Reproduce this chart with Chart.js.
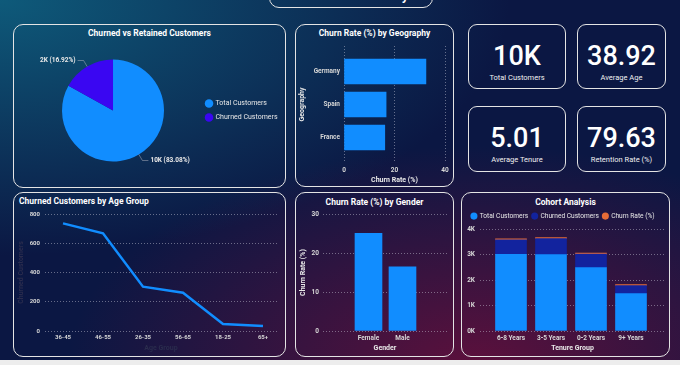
<!DOCTYPE html>
<html><head><meta charset="utf-8">
<script src="https://cdn.jsdelivr.net/npm/chart.js@4.4.1/dist/chart.umd.min.js"></script>
<style>
html,body{margin:0;padding:0;}
body{width:680px;height:365px;overflow:hidden;position:relative;font-family:Roboto,sans-serif;
background:
 radial-gradient(ellipse 75% 70% at 0% 0%, rgba(14,90,122,1), rgba(14,90,122,0)),
 radial-gradient(ellipse 60% 60% at 70% 100%, rgba(92,16,60,1), rgba(92,16,60,0)),
 #0b1743;}
.box{position:absolute;border:1.6px solid #e4e4e4;border-radius:10px;box-sizing:border-box;}
.kpi{position:absolute;border:1.6px solid #e4e4e4;border-radius:9px;box-sizing:border-box;color:#fff;text-align:center;}
.kpi .v{position:absolute;left:0;right:0;top:17px;font-size:27px;line-height:28px;font-weight:500;}
.kpi .l{position:absolute;left:0;right:0;top:48px;font-size:7.5px;line-height:10px;color:#f0f0f0;}
.t{position:absolute;color:#fff;font-weight:bold;font-size:8.5px;line-height:10px;white-space:nowrap;}
canvas{position:absolute;}
#strip{position:absolute;left:0;top:360px;width:680px;height:5px;background:#ededed;}
</style></head>
<body>
<div class="box" style="left:269px;top:-22px;width:164px;height:30px;"></div>
<div class="t" style="left:269px;width:164px;top:-11.5px;text-align:center;font-size:13px;line-height:13px;">Customer Churn Analysis</div>

<div class="box" style="left:13px;top:24px;width:273px;height:164px;"></div>
<div class="t" style="left:13px;width:273px;top:28px;text-align:center;">Churned vs Retained Customers</div>
<canvas id="pie" width="273" height="164" style="left:13px;top:24px;"></canvas>

<div class="box" style="left:295px;top:24px;width:159px;height:163px;"></div>
<div class="t" style="left:295px;width:159px;top:28px;text-align:center;">Churn Rate (%) by Geography</div>
<canvas id="geo" width="159" height="163" style="left:295px;top:24px;"></canvas>

<div id="kpis"></div>

<div class="box" style="left:13px;top:192px;width:273px;height:165px;"></div>
<div class="t" style="left:19px;top:196px;">Churned Customers by Age Group</div>
<canvas id="age" width="273" height="165" style="left:13px;top:192px;"></canvas>

<div class="box" style="left:295px;top:192px;width:159px;height:165px;"></div>
<div class="t" style="left:295px;width:159px;top:197px;text-align:center;">Churn Rate (%) by Gender</div>
<canvas id="gender" width="159" height="165" style="left:295px;top:192px;"></canvas>

<div class="box" style="left:461px;top:192px;width:209px;height:165px;"></div>
<div class="t" style="left:461px;width:209px;top:197px;text-align:center;">Cohort Analysis</div>
<canvas id="cohort" width="209" height="165" style="left:461px;top:192px;"></canvas>

<div id="strip"></div>

<script>
// ---------- data ----------
const pieLabels = ['Total Customers', 'Churned Customers'];
const pieValues = [10000, 2037];

const geoLabels = ['Germany', 'Spain', 'France'];
const geoRates = [32.44, 16.67, 16.15];

const kpiValues = ['10K', '38.92', '5.01', '79.63'];
const kpiLabels = ['Total Customers', 'Average Age', 'Average Tenure', 'Retention Rate (%)'];

const ageGroups = ['36-45', '46-55', '26-35', '56-65', '18-25', '65+'];
const ageChurned = [736, 668, 303, 262, 48, 34];

const genders = ['Female', 'Male'];
const genderRates = [25.07, 16.46];

const tenureGroups = ['6-8 Years', '3-5 Years', '0-2 Years', '9+ Years'];
const tenureTotal = [3020, 3010, 2496, 1474];
const tenureChurned = [570, 625, 528, 314];
const tenureRate = [18.87, 20.76, 21.15, 21.30];

const geoTicks = [0, 20, 40];
const ageTicks = [0, 200, 400, 600, 800];
const genderTicks = [0, 10, 20, 30];
const cohortTicks = [0, 1000, 2000, 3000, 4000];

// ---------- KPI cards ----------
const kpiBoxes = [[468,24,98,65],[577,24,89,65],[468,106,98,66],[577,106,89,66]];
const kpiWrap = document.getElementById('kpis');
kpiValues.forEach((v,i)=>{
  const b = kpiBoxes[i];
  const d = document.createElement('div');
  d.className='kpi';
  d.style.cssText = `left:${b[0]}px;top:${b[1]}px;width:${b[2]}px;height:${b[3]}px;`;
  d.innerHTML = `<div class="v">${v}</div><div class="l">${kpiLabels[i]}</div>`;
  kpiWrap.appendChild(d);
});

// ---------- common ----------
Chart.defaults.font.family = 'Roboto, sans-serif';
Chart.defaults.animation = false;
const TICK = '#d6d6d6';
const GRID = 'rgba(210,210,225,0.45)';
const FAINT = '#2a2c4d';
const tickFont = {size: 6.5, weight: 'bold'};
const titleFont = {size: 7, weight: 'bold'};
const fixW = w => s => { s.width = w; };
const fixH = h => s => { s.height = h; };
const idxTicks = arr => s => { s.ticks = arr.map((_, i) => ({value: i})); };
const valTicks = arr => s => { s.ticks = arr.map(v => ({value: v})); };
const fmtK = v => v >= 1000 ? Math.round(v/1000) + 'K' : String(v);

// ---------- pie ----------
const pieLabelPlugin = {
  id: 'pieLabels',
  afterDatasetsDraw(chart) {
    const ctx = chart.ctx;
    const meta = chart.getDatasetMeta(0);
    const total = pieValues.reduce((a,b)=>a+b,0);
    ctx.save();
    ctx.font = 'bold 6.5px Roboto, sans-serif';
    meta.data.forEach((arc, i) => {
      const mid = (arc.startAngle + arc.endAngle) / 2;
      const r = arc.outerRadius;
      const x0 = arc.x + Math.cos(mid)*r, y0 = arc.y + Math.sin(mid)*r;
      const x1 = arc.x + Math.cos(mid)*(r+7), y1 = arc.y + Math.sin(mid)*(r+7);
      const right = Math.cos(mid) >= 0;
      const x2 = x1 + (right ? 6 : -6);
      ctx.strokeStyle = 'rgba(190,190,200,0.6)';
      ctx.lineWidth = 0.8;
      ctx.beginPath(); ctx.moveTo(x0,y0); ctx.lineTo(x1,y1); ctx.lineTo(x2,y1); ctx.stroke();
      const v = pieValues[i];
      const txt = fmtK(v) + ' (' + (v/total*100).toFixed(2) + '%)';
      ctx.fillStyle = '#e8e8e8';
      ctx.textAlign = right ? 'left' : 'right';
      ctx.textBaseline = 'middle';
      ctx.fillText(txt, x2 + (right ? 2 : -2), y1);
    });
    ctx.restore();
  }
};
new Chart(document.getElementById('pie'), {
  type: 'pie',
  data: {labels: pieLabels, datasets: [{data: pieValues, backgroundColor: ['#118DFF', '#3A06F2'], borderWidth: 0}]},
  options: {
    responsive: false,
    layout: {padding: {top: 35.5, bottom: 26.5, left: 14, right: -1.5}},
    plugins: {
      legend: {position: 'right', align: 'center',
        labels: {usePointStyle: true, pointStyle: 'circle', boxWidth: 6, boxHeight: 6, padding: 7,
          color: '#e8e8e8', font: {size: 7}}},
      tooltip: {enabled: false}
    }
  },
  plugins: [pieLabelPlugin]
});

// ---------- geography ----------
new Chart(document.getElementById('geo'), {
  type: 'bar',
  data: {datasets: [{data: geoRates.map((v,i)=>({x: v, y: i})), backgroundColor: '#118DFF', barThickness: 25}]},
  options: {
    responsive: false, indexAxis: 'y',
    layout: {padding: {top: 22, right: 9, left: 0, bottom: 0}},
    plugins: {legend: {display: false}, tooltip: {enabled: false}},
    scales: {
      y: {type: 'linear', offset: false, reverse: true, min: -0.773, max: 2.773, afterBuildTicks: idxTicks(geoLabels), afterFit: fixW(49),
        grid: {display: false, offset: false, drawTicks: false}, border: {display: false},
        ticks: {callback: v => geoLabels[v], color: TICK, font: tickFont, padding: 4, autoSkip: false},
        title: {display: true, text: 'Geography', color: '#e8e8e8', font: titleFont, padding: {top: 3, bottom: 3}}},
      x: {type: 'linear', min: 0, max: 40, afterBuildTicks: valTicks(geoTicks), afterFit: fixH(24),
        grid: {color: GRID, drawTicks: false}, border: {display: false, dash: [1, 2]},
        ticks: {color: TICK, font: tickFont, padding: 3},
        title: {display: true, text: 'Churn Rate (%)', color: '#e8e8e8', font: titleFont, padding: {top: 1, bottom: 3}}}
    }
  }
});

// ---------- age line ----------
new Chart(document.getElementById('age'), {
  type: 'line',
  data: {datasets: [{data: ageChurned.map((v,i)=>({x: i, y: v})), borderColor: '#118DFF', borderWidth: 2.5,
    pointRadius: 0, tension: 0, fill: false}]},
  options: {
    responsive: false,
    layout: {padding: {top: 22, right: 9, left: 0, bottom: 0}},
    plugins: {legend: {display: false}, tooltip: {enabled: false}},
    scales: {
      x: {type: 'linear', offset: false, min: -0.45, max: 5.35, afterBuildTicks: idxTicks(ageGroups), afterFit: fixH(26),
        grid: {display: false, drawTicks: false}, border: {display: false},
        ticks: {callback: v => ageGroups[v], color: TICK, font: {size: 6, weight: 'bold'}, padding: 3, autoSkip: false, maxRotation: 0},
        title: {display: true, text: 'Age Group', color: FAINT, font: titleFont, padding: {top: 1, bottom: 5}}},
      y: {min: 0, max: 800, afterBuildTicks: valTicks(ageTicks), afterFit: fixW(32),
        grid: {color: GRID, drawTicks: false}, border: {display: false, dash: [1, 2]},
        ticks: {color: TICK, font: {size: 6, weight: 'bold'}, padding: 5},
        title: {display: true, text: 'Churned Customers', color: FAINT, font: titleFont, padding: {top: 4, bottom: 2}}}
    }
  }
});

// ---------- gender ----------
new Chart(document.getElementById('gender'), {
  type: 'bar',
  data: {datasets: [{data: genderRates.map((v,i)=>({x: i, y: v})), backgroundColor: '#118DFF', barThickness: 27}]},
  options: {
    responsive: false,
    layout: {padding: {top: 22, right: 7, left: 0, bottom: 0}},
    plugins: {legend: {display: false}, tooltip: {enabled: false}},
    scales: {
      x: {type: 'linear', offset: false, min: -1.338, max: 2.309, afterBuildTicks: idxTicks(genders), afterFit: fixH(26),
        grid: {display: false, offset: false, drawTicks: false}, border: {display: false},
        ticks: {callback: v => genders[v], color: TICK, font: tickFont, padding: 3, autoSkip: false, maxRotation: 0},
        title: {display: true, text: 'Gender', color: '#e8e8e8', font: titleFont, padding: {top: 1, bottom: 5}}},
      y: {min: 0, max: 30, afterBuildTicks: valTicks(genderTicks), afterFit: fixW(28),
        grid: {color: GRID, drawTicks: false}, border: {display: false, dash: [1, 2]},
        ticks: {color: TICK, font: tickFont, padding: 4},
        title: {display: true, text: 'Churn Rate (%)', color: '#e8e8e8', font: titleFont, padding: {top: 4, bottom: 2}}}
    }
  }
});

// ---------- cohort ----------
new Chart(document.getElementById('cohort'), {
  type: 'bar',
  data: {datasets: [
    {label: 'Total Customers', data: tenureTotal.map((v,i)=>({x: i, y: v})), backgroundColor: '#118DFF', barThickness: 31},
    {label: 'Churned Customers', data: tenureChurned.map((v,i)=>({x: i, y: v})), backgroundColor: '#12239E', barThickness: 31},
    {label: 'Churn Rate (%)', data: tenureRate.map((v,i)=>({x: i, y: v})), backgroundColor: '#E66C37', barThickness: 31, minBarLength: 1}
  ]},
  options: {
    responsive: false,
    layout: {padding: {top: 16.8, right: 5, left: 0, bottom: 0}},
    plugins: {
      legend: {position: 'top', align: 'center',
        labels: {usePointStyle: true, pointStyle: 'circle', boxWidth: 5, boxHeight: 5, padding: 4,
          color: '#e8e8e8', font: {size: 6.6}}},
      tooltip: {enabled: false}
    },
    scales: {
      x: {type: 'linear', offset: false, stacked: true, min: -0.775, max: 3.85, afterBuildTicks: idxTicks(tenureGroups), afterFit: fixH(26),
        grid: {display: false, offset: false, drawTicks: false}, border: {display: false},
        ticks: {callback: v => tenureGroups[v], color: TICK, font: tickFont, padding: 3, autoSkip: false, maxRotation: 0},
        title: {display: true, text: 'Tenure Group', color: '#e8e8e8', font: titleFont, padding: {top: 1, bottom: 5}}},
      y: {stacked: true, min: 0, max: 4000, afterBuildTicks: valTicks(cohortTicks), afterFit: fixW(19),
        grid: {color: GRID, drawTicks: false}, border: {display: false, dash: [1, 2]},
        ticks: {callback: v => (v/1000) + 'K', color: TICK, font: tickFont, padding: 5}}
    }
  }
});
</script>
</body></html>
